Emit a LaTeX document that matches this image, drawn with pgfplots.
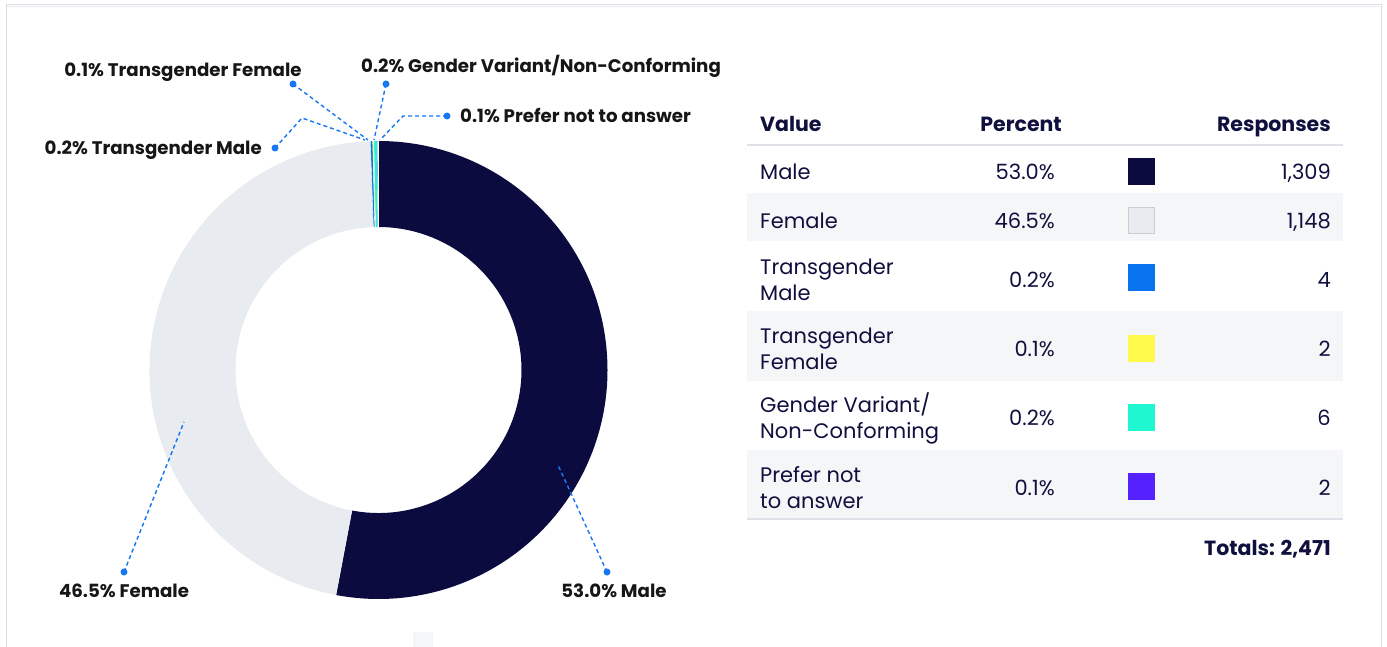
\documentclass[border=0pt]{standalone}
\usepackage{pgfplots}
\pgfplotsset{compat=1.18}
\usepackage{pgfplotstable}
\usepackage{fontspec}
\setmainfont{Poppins}
\definecolor{tabtext}{HTML}{10103F}
\definecolor{lbltext}{HTML}{161616}
\definecolor{callout}{HTML}{1877F2}
\definecolor{rowgray}{HTML}{F5F6F8}
\definecolor{rulecol}{HTML}{DFE1E8}
\definecolor{framecol}{HTML}{DCDCE4}

\pgfplotstableread[col sep=comma]{
name,resp,hex
Male,1309,0B0B3F
Female,1148,E8ECF0
Transgender Male,4,0A74F0
Transgender Female,2,FFFB4D
Gender Variant,6,1FF7D0
Prefer not,2,5522FF
}\gender

\xdef\mytotal{0}
\foreach \i in {0,...,5}{%
  \pgfplotstablegetelem{\i}{resp}\of\gender
  \pgfmathsetmacro{\mysum}{\mytotal+\pgfplotsretval}%
  \xdef\mytotal{\mysum}%
}
\xdef\mycum{0}
\foreach \i in {0,...,5}{%
  \pgfplotstablegetelem{\i}{resp}\of\gender
  \pgfmathsetmacro{\myS}{90-360*(\mycum/\mytotal)}%
  \pgfmathsetmacro{\myN}{\mycum+\pgfplotsretval}%
  \pgfmathsetmacro{\myE}{90-360*(\myN/\mytotal)}%
  \xdef\mycum{\myN}%
  \expandafter\xdef\csname sa\i\endcsname{\myS}%
  \expandafter\xdef\csname ea\i\endcsname{\myE}%
  \pgfplotstablegetelem{\i}{hex}\of\gender
  \edef\mytmp{\noexpand\xglobal\noexpand\definecolor{gcol\i}{HTML}{\pgfplotsretval}}\mytmp
}

\tikzset{
  tab/.style={text=tabtext, font=\fontsize{21}{26}\selectfont, inner sep=0pt},
  hdr/.style={text=tabtext, font=\fontsize{20.5}{26}\selectfont\bfseries, inner sep=0pt},
  lbl/.style={text=lbltext, font=\fontsize{18.2}{20}\selectfont\bfseries, inner sep=0pt},
  co/.style={callout, line width=1.4pt, dash pattern=on 4pt off 3pt},
  dot/.style={fill=callout},
}

\begin{document}
\begin{tikzpicture}
\begin{axis}[
  at={(0,0)}, anchor=south west,
  width=1387pt, height=647pt, scale only axis,
  xmin=0, xmax=1387, ymin=0, ymax=647, y dir=reverse,
  axis lines=none, clip=false,
]
% background and frame
\fill[white] (axis cs:0,0) rectangle (axis cs:1387,647);
\draw[framecol, line width=1pt] (axis cs:6,650) -- (axis cs:6,5) -- (axis cs:1381,5) -- (axis cs:1381,650);
\draw[framecol!60, line width=1pt] (axis cs:7,6.5) -- (axis cs:1380,6.5);
\fill[rowgray] (axis cs:413,632) rectangle (axis cs:433,647);

% donut
\pgfplotsinvokeforeach{0,...,5}{
  \fill[gcol#1] ([shift={(\csname sa#1\endcsname:229pt)}]axis cs:378.5,370)
     arc[start angle=\csname sa#1\endcsname, end angle=\csname ea#1\endcsname, radius=229pt]
     -- ([shift={(\csname ea#1\endcsname:143pt)}]axis cs:378.5,370)
     arc[start angle=\csname ea#1\endcsname, end angle=\csname sa#1\endcsname, radius=143pt] -- cycle;
}
\pgfplotsinvokeforeach{0,...,5}{
  \draw[white, line width=0.35pt] ([shift={(\csname sa#1\endcsname:142pt)}]axis cs:378.5,370)
     -- ([shift={(\csname sa#1\endcsname:230pt)}]axis cs:378.5,370);
}

% callouts
\draw[co] (axis cs:607,572) -- (axis cs:558,465);
\fill[dot] (axis cs:607,572) circle[radius=3.5pt];
\node[lbl, anchor=base] at (axis cs:614,597.5) {53.0\% Male};
\draw[co] (axis cs:124,572) -- (axis cs:184,422);
\fill[dot] (axis cs:124,572) circle[radius=3.5pt];
\node[lbl, anchor=base] at (axis cs:124,597.5) {46.5\% Female};
\draw[co] (axis cs:275,148) -- (axis cs:302,118) -- (axis cs:365,140);
\fill[dot] (axis cs:275,148) circle[radius=3.5pt];
\node[lbl, anchor=base east] at (axis cs:262,154.5) {0.2\% Transgender Male};
\draw[co] (axis cs:293,84) -- (axis cs:368,140);
\fill[dot] (axis cs:293,84) circle[radius=3.5pt];
\node[lbl, anchor=base] at (axis cs:183,76.5) {0.1\% Transgender Female};
\draw[co] (axis cs:386,84) -- (axis cs:374,140);
\fill[dot] (axis cs:386,84) circle[radius=3.5pt];
\node[lbl, anchor=base] at (axis cs:541,72.5) {0.2\% Gender Variant/Non-Conforming};
\draw[co] (axis cs:447,116) -- (axis cs:403,116) -- (axis cs:380,140);
\fill[dot] (axis cs:447,116) circle[radius=3.5pt];
\node[lbl, anchor=base west] at (axis cs:460,122.5) {0.1\% Prefer not to answer};

% table
\fill[rowgray] (axis cs:747,193) rectangle (axis cs:1343,241);
\fill[rowgray] (axis cs:747,311) rectangle (axis cs:1343,381);
\fill[rowgray] (axis cs:747,450) rectangle (axis cs:1343,519);
\draw[rulecol, line width=2pt] (axis cs:747,145) -- (axis cs:1343,145);
\draw[rulecol, line width=1.5pt] (axis cs:747,519) -- (axis cs:1343,519);

\node[hdr, anchor=base west] at (axis cs:760,131.5) {Value};
\node[hdr, anchor=base east] at (axis cs:1062,131.5) {Percent};
\node[hdr, anchor=base east] at (axis cs:1331,131.5) {Responses};

\node[tab, anchor=base west] at (axis cs:760,179.5) {Male};
\node[tab, anchor=base west] at (axis cs:760,228.5) {Female};
\node[tab, anchor=west, align=left] at (axis cs:760,280) {Transgender\\Male};
\node[tab, anchor=west, align=left] at (axis cs:760,349) {Transgender\\Female};
\node[tab, anchor=west, align=left] at (axis cs:760,418) {Gender Variant/\\Non-Conforming};
\node[tab, anchor=west, align=left] at (axis cs:760,488) {Prefer not\\to answer};

\node[tab, anchor=base east] at (axis cs:1055,179.5) {53.0\%};
\node[tab, anchor=base east] at (axis cs:1055,228.5) {46.5\%};
\node[tab, anchor=base east] at (axis cs:1055,287.5) {0.2\%};
\node[tab, anchor=base east] at (axis cs:1055,356.5) {0.1\%};
\node[tab, anchor=base east] at (axis cs:1055,425.5) {0.2\%};
\node[tab, anchor=base east] at (axis cs:1055,495.5) {0.1\%};

\fill[gcol0] (axis cs:1128,158.5) rectangle (axis cs:1155,185.5);
\filldraw[fill=gcol1, draw=black!20, line width=0.8pt] (axis cs:1128.5,207.5) rectangle (axis cs:1154.5,233.5);
\fill[gcol2] (axis cs:1128,263.5) rectangle (axis cs:1155,290.5);
\fill[gcol3] (axis cs:1128,334.5) rectangle (axis cs:1155,361.5);
\fill[gcol4] (axis cs:1128,403.5) rectangle (axis cs:1155,430.5);
\fill[gcol5] (axis cs:1128,472.5) rectangle (axis cs:1155,499.5);

\node[tab, anchor=base east] at (axis cs:1331,179.5) {1,309};
\node[tab, anchor=base east] at (axis cs:1331,228.5) {1,148};
\node[tab, anchor=base east] at (axis cs:1331,287.5) {4};
\node[tab, anchor=base east] at (axis cs:1331,356.5) {2};
\node[tab, anchor=base east] at (axis cs:1331,425.5) {6};
\node[tab, anchor=base east] at (axis cs:1331,495.5) {2};

\node[hdr, anchor=base east] at (axis cs:1331,555.5) {Totals: 2,471};
\end{axis}
\pgfresetboundingbox
\useasboundingbox (0,0) rectangle (1387pt,647pt);
\end{tikzpicture}
\end{document}
